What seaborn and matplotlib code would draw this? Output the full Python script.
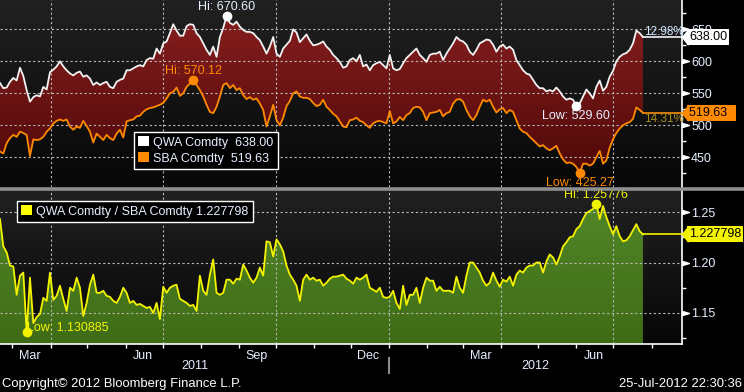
import numpy as np
import pandas as pd
import matplotlib
matplotlib.use("Agg")
import matplotlib.pyplot as plt
import matplotlib.dates as mdates
import matplotlib.transforms as mtransforms
from matplotlib.colors import LinearSegmentedColormap
from matplotlib.patches import Patch, PathPatch
from matplotlib.path import Path
from matplotlib.lines import Line2D
from matplotlib.markers import MarkerStyle
from matplotlib.ticker import FormatStrFormatter
import seaborn as sns

# --- values ---
start_date = "2011-02-19"
end_date = "2012-07-25"

qwa = [566, 558, 559, 568, 574, 570, 590, 577, 555, 537,
       544, 547, 545, 560, 556, 583, 587, 592, 600, 592,
       586, 581, 578, 582, 584, 576, 578, 573, 563, 567,
       563, 566, 568, 560, 558, 568, 571, 573, 586, 586,
       589, 592, 594, 592, 602, 605, 604, 620, 612, 628,
       631, 644, 658, 648, 640, 640, 655, 658, 657, 644,
       638, 628, 618, 610, 623, 607, 638, 652, 670.60, 660,
       657, 662, 654, 649, 646, 646, 644, 638, 633, 623,
       612, 623, 638, 612, 607, 620, 626, 632, 650, 645,
       630, 636, 642, 632, 625, 626, 628, 631, 623, 618,
       610, 605, 599, 590, 592, 602, 605, 600, 610, 592,
       595, 586, 594, 597, 599, 594, 589, 610, 589, 586,
       588, 597, 605, 610, 615, 620, 610, 605, 599, 610,
       612, 612, 615, 602, 612, 620, 628, 638, 633, 631,
       626, 615, 610, 618, 628, 631, 634, 633, 626, 615,
       623, 626, 620, 623, 618, 602, 594, 586, 581, 579,
       571, 563, 558, 558, 553, 555, 553, 559, 553, 545,
       540, 542, 540, 529.60, 534, 545, 556, 550, 542, 560,
       570, 554, 560, 576, 585, 600, 607, 611, 613, 618,
       628, 648, 644, 638.00]

sba = [459, 456, 472, 480, 485, 482, 490, 488, 485, 452,
       478, 477, 478, 482, 490, 495, 503, 507, 509, 507,
       509, 498, 493, 498, 496, 507, 499, 490, 473, 487,
       482, 477, 485, 480, 477, 487, 493, 481, 506, 508,
       509, 514, 515, 521, 525, 527, 528, 530, 532, 535,
       542, 550, 552, 559, 546, 550, 560, 565, 570.12, 563,
       555, 545, 532, 521, 519, 529, 545, 563, 566, 558,
       563, 555, 558, 547, 541, 544, 540, 542, 534, 524,
       498, 514, 532, 508, 500, 512, 530, 538, 550, 553,
       545, 543, 543, 541, 535, 530, 532, 540, 529, 524,
       518, 514, 506, 498, 497, 508, 509, 512, 507, 505,
       500, 496, 503, 506, 507, 505, 503, 522, 503, 506,
       513, 508, 516, 519, 527, 529, 528, 521, 508, 519,
       520, 521, 524, 514, 519, 521, 534, 540, 541, 537,
       524, 514, 508, 516, 529, 540, 537, 540, 529, 520,
       525, 527, 519, 524, 521, 508, 495, 490, 488, 482,
       477, 472, 467, 469, 464, 461, 464, 468, 456, 447,
       441, 442, 440, 435, 425.27, 440, 440, 437, 440, 450,
       460, 440, 445, 465, 478, 488, 495, 500, 503, 505,
       510, 528, 524, 519.63]

ratio = [1.243, 1.216, 1.210, 1.197, 1.196, 1.168, 1.187, 1.190, 1.130885, 1.185,
         1.140, 1.146, 1.149, 1.165, 1.162, 1.190, 1.163, 1.167, 1.177, 1.164,
         1.152, 1.175, 1.172, 1.185, 1.175, 1.147, 1.160, 1.178, 1.188, 1.170,
         1.170, 1.172, 1.167, 1.166, 1.162, 1.160, 1.166, 1.175, 1.170, 1.160,
         1.162, 1.158, 1.159, 1.157, 1.155, 1.156, 1.150, 1.160, 1.144, 1.176,
         1.170, 1.175, 1.177, 1.178, 1.164, 1.162, 1.160, 1.157, 1.158, 1.152,
         1.187, 1.172, 1.168, 1.188, 1.203, 1.170, 1.168, 1.170, 1.183, 1.183,
         1.179, 1.184, 1.183, 1.198, 1.192, 1.185, 1.180, 1.185, 1.195, 1.187,
         1.221, 1.220, 1.206, 1.223, 1.218, 1.211, 1.197, 1.188, 1.183, 1.177,
         1.162, 1.183, 1.188, 1.183, 1.185, 1.182, 1.183, 1.177, 1.180, 1.184,
         1.186, 1.186, 1.187, 1.188, 1.184, 1.182, 1.179, 1.185, 1.183, 1.185,
         1.188, 1.175, 1.173, 1.171, 1.175, 1.166, 1.165, 1.166, 1.172, 1.160,
         1.154, 1.177, 1.158, 1.168, 1.168, 1.175, 1.160, 1.175, 1.185, 1.182,
         1.182, 1.172, 1.176, 1.172, 1.172, 1.172, 1.170, 1.186, 1.175, 1.170,
         1.187, 1.200, 1.200, 1.195, 1.190, 1.182, 1.177, 1.180, 1.190, 1.182,
         1.176, 1.183, 1.181, 1.186, 1.177, 1.188, 1.192, 1.190, 1.195, 1.197,
         1.197, 1.200, 1.200, 1.190, 1.201, 1.208, 1.205, 1.198, 1.206, 1.216,
         1.220, 1.225, 1.226, 1.233, 1.236, 1.243, 1.249, 1.251, 1.253, 1.25776,
         1.243, 1.256, 1.245, 1.236, 1.228, 1.236, 1.226, 1.221, 1.222, 1.226,
         1.232, 1.238, 1.231, 1.227798]

qwa_dates = pd.date_range(start_date, end_date, periods=len(qwa))
sba_dates = pd.date_range(start_date, end_date, periods=len(sba))
ratio_dates = pd.date_range(start_date, end_date, periods=len(ratio))

top_ticks = [450, 500, 550, 600, 650]
top_minor = [425, 475, 525, 575, 625, 675]
bot_ticks = [1.15, 1.20, 1.25]
bot_minor = [1.125, 1.175, 1.225]
pct_qwa = "12.98%"
pct_sba = "14.31%"
qwa_name = "QWA Comdty"
sba_name = "SBA Comdty"

WHITE = "#f2f2f2"
ORANGE = "#ff8a00"
YELLOW = "#f4f400"
TXT = "#e6eeff"
GRID = dict(color="#b8b8b8", linestyle=(0, (2, 2.2)), linewidth=0.8)

plt.rcParams['font.family'] = ['Liberation Sans', 'DejaVu Sans']

W, H = 744, 392
fig = plt.figure(figsize=(W / 100, H / 100), dpi=100, facecolor="black")


def add_axes_px(x0, y0, x1, y1):
    return fig.add_axes([x0 / W, 1 - y1 / H, (x1 - x0) / W, (y1 - y0) / H])


ax1 = add_axes_px(0, 0, 682, 187)
ax2 = add_axes_px(0, 190, 682, 344)

xmin = pd.Timestamp("2011-02-19")
xmax = pd.Timestamp("2012-08-25 16:00")
xn0, xn1 = mdates.date2num(xmin), mdates.date2num(xmax)
top_ylim = (403.6, 695.8)
bot_ylim = (1.1193, 1.2718)

# --- lines ---
sns.lineplot(x=qwa_dates, y=qwa, ax=ax1, color=WHITE, linewidth=1.3, zorder=5, legend=False)
sns.lineplot(x=sba_dates, y=sba, ax=ax1, color=ORANGE, linewidth=1.3, zorder=5, legend=False)
sns.lineplot(x=ratio_dates, y=ratio, ax=ax2, color=YELLOW, linewidth=1.3, zorder=5, legend=False)


def vgrad(ax, c_bot, c_top, ylim, clip=None, z=0.2):
    cmap = LinearSegmentedColormap.from_list("g", [c_bot, c_top])
    im = ax.imshow(np.linspace(0, 1, 256).reshape(-1, 1), cmap=cmap, origin="lower",
                   aspect="auto", extent=[xn0, xn1, ylim[0], ylim[1]], zorder=z,
                   interpolation="bilinear")
    if clip is not None:
        patch = PathPatch(clip.get_paths()[0], transform=ax.transData,
                          facecolor="none", edgecolor="none")
        ax.add_patch(patch)
        im.set_clip_path(patch)
    return im


# backgrounds
vgrad(ax1, "#070707", "#212121", top_ylim)
vgrad(ax2, "#070707", "#212121", bot_ylim)

# fills
band = ax1.fill_between(qwa_dates, sba, qwa, facecolor="none", edgecolor="none")
vgrad(ax1, "#4a0606", "#8c2020", top_ylim, clip=band, z=1)
area = ax2.fill_between(ratio_dates, ratio, bot_ylim[0], facecolor="none", edgecolor="none")
vgrad(ax2, "#3e6c15", "#54882a", bot_ylim, clip=area, z=1)

# last value connectors to the axis
ax1.plot([qwa_dates[-1], xmax], [qwa[-1]] * 2, color=WHITE, lw=1.2, zorder=5)
ax1.plot([sba_dates[-1], xmax], [sba[-1]] * 2, color=ORANGE, lw=1.2, zorder=5)
ax2.plot([ratio_dates[-1], xmax], [ratio[-1]] * 2, color=YELLOW, lw=1.2, zorder=5)

# --- axes styling ---
tri = Path([(0, -0.3), (1, 0), (0, 0.3), (0, -0.3)],
           [Path.MOVETO, Path.LINETO, Path.LINETO, Path.CLOSEPOLY])

quarters = pd.date_range("2011-04-01", "2012-07-01", freq="QS")

for ax, ylim, major, minor, fmt in [(ax1, top_ylim, top_ticks, top_minor, "%d"),
                                    (ax2, bot_ylim, bot_ticks, bot_minor, "%.2f")]:
    ax.set_facecolor("black")
    ax.set_xlim(xmin, xmax)
    ax.set_ylim(*ylim)
    ax.grid(False)
    ax.set_axisbelow(False)
    for s in ["top", "left", "bottom"]:
        ax.spines[s].set_visible(False)
    ax.spines["right"].set_color("white")
    ax.spines["right"].set_linewidth(1.2)
    ax.yaxis.tick_right()
    ax.set_yticks(major)
    ax.set_yticks(minor, minor=True)
    ax.yaxis.set_major_formatter(FormatStrFormatter(fmt))
    ax.tick_params(axis="y", which="major", right=True, left=False, length=4.5, width=1,
                   color="white", pad=2, labelcolor=TXT, labelsize=9)
    ax.tick_params(axis="y", which="minor", right=True, left=False, length=3, width=1,
                   color="white")
    for t in ax.yaxis.get_major_ticks():
        t.tick2line.set_marker(MarkerStyle(tri))
        t.tick2line.set_markersize(10)
        t.tick2line.set_markerfacecolor("white")
        t.tick2line.set_markeredgecolor("white")
    ax.yaxis.grid(True, which="major", zorder=2.5, **GRID)
    for q in quarters:
        ax.axvline(q, zorder=2.5, **GRID)
    ax.set_xlabel("")
    ax.set_ylabel("")

ax1.tick_params(axis="x", which="both", bottom=False, labelbottom=False)

ax2.spines["bottom"].set_visible(True)
ax2.spines["bottom"].set_color("white")
ax2.spines["bottom"].set_linewidth(1.2)
ax2.xaxis.set_major_locator(mdates.MonthLocator(bymonth=(3, 6, 9, 12), bymonthday=15))
ax2.xaxis.set_major_formatter(mdates.DateFormatter("%b"))
ax2.xaxis.set_minor_locator(mdates.MonthLocator())
ax2.tick_params(axis="x", which="major", length=0, pad=4, labelcolor=TXT, labelsize=9)
ax2.tick_params(axis="x", which="minor", length=3, width=1, color="white")

# year labels and separator
bt2 = mtransforms.blended_transform_factory(ax2.transData, ax2.transAxes)
jan12 = pd.Timestamp("2012-01-01")
ax2.text(xmin + (jan12 - xmin) / 2, -0.143, "2011", transform=bt2, ha="center",
         va="center", color=TXT, fontsize=9)
ax2.text(jan12 + (xmax - jan12) / 2, -0.143, "2012", transform=bt2, ha="center",
         va="center", color=TXT, fontsize=9)
ax2.plot([jan12, jan12], [-0.091, -0.19], transform=bt2, color="#8a8a8a", lw=1.5,
         clip_on=False)

# --- Hi / Low markers ---
def mark(ax, x, y, text, color, tcolor, off, ha, va):
    ax.plot([x], [y], "o", color=color, ms=6, zorder=8)
    ax.annotate(text, (x, y), xytext=off, textcoords="offset points", ha=ha, va=va,
                color=tcolor, fontsize=9, zorder=7)


i = int(np.argmax(qwa))
mark(ax1, qwa_dates[i], qwa[i], f"Hi: {qwa[i]:.2f}", "white", TXT, (0, 2.5), "center", "bottom")
i = int(np.argmin(qwa))
mark(ax1, qwa_dates[i], qwa[i], f"Low: {qwa[i]:.2f}", "white", TXT, (0, -2.5), "center", "top")
i = int(np.argmax(sba))
mark(ax1, sba_dates[i], sba[i], f"Hi: {sba[i]:.2f}", ORANGE, ORANGE, (0, 2.5), "center", "bottom")
i = int(np.argmin(sba))
mark(ax1, sba_dates[i], sba[i], f"Low: {sba[i]:.2f}", ORANGE, ORANGE, (0, -2.5), "center", "top")
i = int(np.argmax(ratio))
mark(ax2, ratio_dates[i], ratio[i], f"Hi: {ratio[i]:.5f}", YELLOW, YELLOW, (0, 2.5), "center", "bottom")
i = int(np.argmin(ratio))
mark(ax2, ratio_dates[i], ratio[i], f"Low: {ratio[i]:.6f}", YELLOW, YELLOW, (0.5, 3), "left", "center")

# percent labels near the line ends
ax1.annotate(pct_qwa, (qwa_dates[-1], qwa[-1]), xytext=(0.5, 1.5), textcoords="offset points",
             ha="left", va="baseline", color="#cfe4ff", fontsize=8.5, zorder=9)
ax1.annotate(pct_sba, (sba_dates[-1], sba[-1]), xytext=(0.5, 0), textcoords="offset points",
             ha="left", va="top", color="#a88c22", fontsize=8.5, zorder=9)

# --- value tags on the right axis ---
tag = Path([(0, 0), (0.4, 0.5), (0.4, -0.5), (0, 0)],
           [Path.MOVETO, Path.LINETO, Path.LINETO, Path.CLOSEPOLY])


def value_tag(ax, y, text, fc):
    bt = mtransforms.blended_transform_factory(ax.transAxes, ax.transData)
    ax.plot([1.0], [y], transform=bt, marker=MarkerStyle(tag), ms=10.5, color=fc,
            linestyle="none", clip_on=False, zorder=11)
    ax.annotate(text, xy=(1.0, y), xycoords=bt, xytext=(5.0, 0), textcoords="offset points",
                ha="left", va="center", fontsize=9, color="black",
                bbox=dict(boxstyle="square,pad=0.16", fc=fc, ec="none"),
                annotation_clip=False, zorder=12)


value_tag(ax1, qwa[-1], f"{qwa[-1]:.2f}", "white")
value_tag(ax1, sba[-1], f"{sba[-1]:.2f}  ", ORANGE)
value_tag(ax2, ratio[-1], f"{ratio[-1]:.6f}", YELLOW)

# --- legends ---
leg_kw = dict(loc="upper left", frameon=True, facecolor="black", edgecolor="white",
              framealpha=1, fancybox=False, fontsize=9, labelcolor=TXT,
              handlelength=0.85, handleheight=0.85, handletextpad=0.35,
              borderpad=0.35, labelspacing=0.3, borderaxespad=0)
leg1 = ax1.legend([Patch(facecolor="white", edgecolor="none"),
                   Patch(facecolor=ORANGE, edgecolor="none")],
                  [f"{qwa_name}  {qwa[-1]:.2f}", f"{sba_name}  {sba[-1]:.2f}"],
                  bbox_to_anchor=(134 / 682, 1 - 132 / 187), **leg_kw)
leg1.get_frame().set_linewidth(1.0)
leg1.set_zorder(20)
leg2 = ax2.legend([Patch(facecolor="yellow", edgecolor="none")],
                  [f"{qwa_name} / {sba_name} {ratio[-1]:.6f}"],
                  bbox_to_anchor=(17 / 682, 1 - 11 / 154), **leg_kw)
leg2.get_frame().set_linewidth(1.0)
leg2.set_zorder(20)

ax1.set_xlim(xmin, xmax)
ax1.set_ylim(*top_ylim)
ax2.set_xlim(xmin, xmax)
ax2.set_ylim(*bot_ylim)

# separator between panels
fig.add_artist(Line2D([0, 1], [1 - 188.5 / H] * 2, transform=fig.transFigure,
                      color="#8e8e8e", lw=2.6))

fig.text(2 / W, 1 - 384 / H, "Copyright\u00a9 2012 Bloomberg Finance L.P.", color="white",
         fontsize=9.4, va="center", ha="left")
fig.text(742 / W, 1 - 384 / H, "25-Jul-2012 22:30:36", color="white",
         fontsize=9.4, va="center", ha="right")

fig.savefig("out.png", dpi=100, facecolor="black")
